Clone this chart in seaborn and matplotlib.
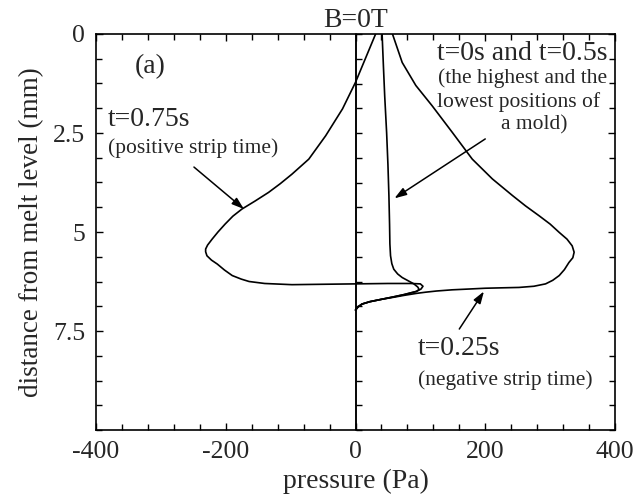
import numpy as np
import pandas as pd
import matplotlib
matplotlib.use("Agg")
import matplotlib.pyplot as plt
from matplotlib.ticker import MultipleLocator, NullFormatter
import seaborn as sns

# t=0.75s (positive strip time)
p_075 = [31, 15, 0, -20, -46, -72, -98, -116, -134, -155, -175, -189, -201, -212, -221, -228, -231, -231, -229, -222, -213, -202, -190, -176, -164, -140, -98, -50, 0, 50, 85, 100, 104, 101, 94, 75, 58, 40, 22, 10, 4, 0]
d_075 = [0, 0.63, 1.22, 1.89, 2.57, 3.16, 3.54, 3.78, 4.0, 4.22, 4.42, 4.6, 4.8, 5.0, 5.18, 5.33, 5.43, 5.5, 5.6, 5.71, 5.81, 5.96, 6.1, 6.19, 6.25, 6.3, 6.33, 6.32, 6.31, 6.3, 6.3, 6.31, 6.37, 6.44, 6.5, 6.58, 6.64, 6.7, 6.76, 6.82, 6.89, 6.97]

# t=0s and t=0.5s (highest and lowest mold positions)
p_0 = [41, 43, 45, 48, 50, 51.5, 52.5, 53, 54, 56, 59, 65, 72, 81, 90, 96, 98, 94, 75, 58, 40, 22, 10, 4, 0]
d_0 = [0, 0.8, 1.56, 2.5, 3.3, 4.08, 4.8, 5.3, 5.6, 5.8, 5.94, 6.06, 6.15, 6.23, 6.31, 6.39, 6.45, 6.5, 6.58, 6.64, 6.7, 6.76, 6.82, 6.89, 6.97]

# t=0.25s (negative strip time)
p_025 = [57, 72, 93, 118, 149, 180, 211, 242, 262, 283, 300, 314, 326, 334, 337, 335, 329, 322, 314, 304, 293, 275, 252, 225, 200, 175, 149, 125, 108, 94, 75, 58, 40, 22, 10, 4, 0]
d_025 = [0, 0.72, 1.3, 1.81, 2.48, 3.16, 3.66, 4.08, 4.34, 4.59, 4.8, 5.01, 5.18, 5.35, 5.51, 5.65, 5.77, 5.95, 6.1, 6.22, 6.31, 6.37, 6.4, 6.41, 6.42, 6.44, 6.46, 6.49, 6.52, 6.55, 6.6, 6.65, 6.7, 6.76, 6.82, 6.89, 6.97]

x_ticks = [-400, -200, 0, 200, 400]
y_ticks = [0, 2.5, 5, 7.5]
y_tick_labels = ["0", "2.5", "5", "7.5"]

df = pd.concat([
    pd.DataFrame({"pressure": p_075, "depth": d_075, "curve": "t=0.75s"}),
    pd.DataFrame({"pressure": p_0, "depth": d_0, "curve": "t=0s"}),
    pd.DataFrame({"pressure": p_025, "depth": d_025, "curve": "t=0.25s"}),
], ignore_index=True)

sns.set_theme(style="ticks")
plt.rcParams["font.family"] = ["Liberation Serif", "DejaVu Serif"]

fig = plt.figure(figsize=(6.42, 4.94), dpi=100)
ax = fig.add_axes([96/642, 1-430/494, (615-96)/642, (430-34)/494])

sns.lineplot(data=df, x="pressure", y="depth", units="curve", estimator=None,
             sort=False, color="black", linewidth=1.2, ax=ax, legend=False)
ax.axvline(0, color="black", linewidth=1.2)

ax.set_xlim(-400, 400)
ax.set_ylim(10, 0)
ax.set_xticks(x_ticks)
ax.set_xticklabels([str(v) for v in x_ticks])
ax.xaxis.set_minor_locator(MultipleLocator(40))
ax.set_yticks(y_ticks)
ax.set_yticklabels(y_tick_labels)
ax.yaxis.set_minor_locator(MultipleLocator(0.625))
ax.tick_params(which="both", direction="in", top=True, right=True, color="black")
ax.tick_params(which="major", length=5, width=1, labelsize=18.5, pad=8)
ax.tick_params(which="minor", length=4, width=1)
for s in ax.spines.values():
    s.set_color("black")
    s.set_linewidth(1.2)

sec = ax.secondary_yaxis(0.5, functions=(lambda v: v, lambda v: v))
sec.set_yticks(y_ticks)
sec.yaxis.set_minor_locator(MultipleLocator(0.625))
sec.yaxis.set_major_formatter(NullFormatter())
sec.yaxis.set_minor_formatter(NullFormatter())
sec.tick_params(which="both", direction="out", labelleft=False, labelright=False,
                length=4, width=1, color="black")
for s in sec.spines.values():
    s.set_linewidth(1.2)

ax.set_xlabel("pressure (Pa)", fontsize=20, labelpad=4)
ax.set_ylabel("distance from melt level (mm)", fontsize=19.5, labelpad=6)
ax.set_title("B=0T", fontsize=20, pad=5)

ax.text(-316, 0.83, "(a)", fontsize=20, ha="center", va="center")
ax.text(-382, 2.17, "t=0.75s", fontsize=20, ha="left", va="center")
ax.text(-382, 2.89, "(positive strip time)", fontsize=15.5, ha="left", va="center")
ax.text(257, 0.49, "t=0s and t=0.5s", fontsize=20, ha="center", va="center")
ax.text(257, 1.12, "(the highest and the", fontsize=15.5, ha="center", va="center")
ax.text(252, 1.71, "lowest positions of", fontsize=15.5, ha="center", va="center")
ax.text(275, 2.30, "a mold)", fontsize=15.5, ha="center", va="center")
ax.text(96, 7.94, "t=0.25s", fontsize=20, ha="left", va="center")
ax.text(96, 8.74, "(negative strip time)", fontsize=15.5, ha="left", va="center")

arrow = dict(arrowstyle="-|>,head_length=0.6,head_width=0.2", color="black", lw=1.1, shrinkA=0, shrinkB=0)
ax.annotate("", xy=(-172, 4.42), xytext=(-249, 3.36), arrowprops=arrow)
ax.annotate("", xy=(60, 4.15), xytext=(200, 2.65), arrowprops=arrow)
ax.annotate("", xy=(198, 6.5), xytext=(160, 7.45), arrowprops=arrow)

fig.savefig("out.png", dpi=100, facecolor="white")
